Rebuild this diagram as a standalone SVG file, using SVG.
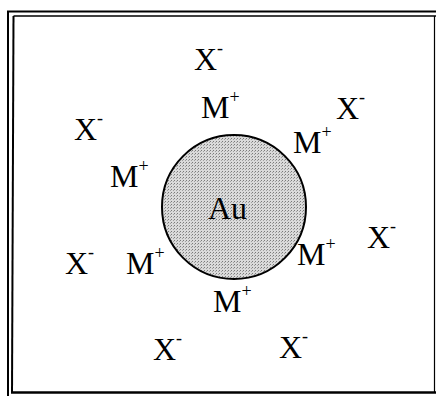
<svg xmlns="http://www.w3.org/2000/svg" width="436" height="396" viewBox="0 0 436 396">
<style>
.t{font-family:"Liberation Serif","Times New Roman",serif;font-size:32px;fill:#000}
.s{font-size:18px}
.f{stroke:#000;fill:none}
</style>
<defs>
<pattern id="dots" width="3" height="3" patternUnits="userSpaceOnUse">
<rect width="3" height="3" fill="#dadada"/>
<rect x="0" y="0" width="1" height="1" fill="#7a7a7a"/>
<rect x="2" y="1" width="1" height="1" fill="#a0a0a0"/>
</pattern>
</defs>
<rect width="436" height="396" fill="#fff"/>
<g id="frame">
<line class="f" x1="7" y1="11.5" x2="436" y2="11.5" stroke-width="2.2"/>
<line class="f" x1="8" y1="11" x2="8" y2="396" stroke-width="2"/>
<line class="f" x1="13.5" y1="16" x2="436" y2="16" stroke-width="1.5"/>
<line class="f" x1="13.5" y1="16" x2="12" y2="393" stroke-width="2"/>
<line class="f" x1="11" y1="392.5" x2="436" y2="392.5" stroke-width="2.5"/>
<line class="f" x1="434.5" y1="16" x2="434.5" y2="393" stroke-width="1.2"/>
</g>
<g id="au">
<circle cx="234" cy="207" r="72" fill="url(#dots)" stroke="#000" stroke-width="2"/>
<text class="t" x="208" y="219">Au</text>
</g>
<g id="ions">
<text class="t" x="194" y="70">X<tspan class="s" dy="-16">-</tspan></text>
<text class="t" x="201" y="118">M<tspan class="s" dy="-15">+</tspan></text>
<text class="t" x="336" y="119">X<tspan class="s" dy="-16">-</tspan></text>
<text class="t" x="74" y="140">X<tspan class="s" dy="-16">-</tspan></text>
<text class="t" x="293" y="153">M<tspan class="s" dy="-15">+</tspan></text>
<text class="t" x="110" y="187">M<tspan class="s" dy="-15">+</tspan></text>
<text class="t" x="367" y="248">X<tspan class="s" dy="-16">-</tspan></text>
<text class="t" x="297" y="265">M<tspan class="s" dy="-15">+</tspan></text>
<text class="t" x="65" y="274">X<tspan class="s" dy="-16">-</tspan></text>
<text class="t" x="126" y="274">M<tspan class="s" dy="-15">+</tspan></text>
<text class="t" x="213" y="312">M<tspan class="s" dy="-15">+</tspan></text>
<text class="t" x="153" y="360">X<tspan class="s" dy="-16">-</tspan></text>
<text class="t" x="279" y="358">X<tspan class="s" dy="-16">-</tspan></text>
</g>
</svg>
